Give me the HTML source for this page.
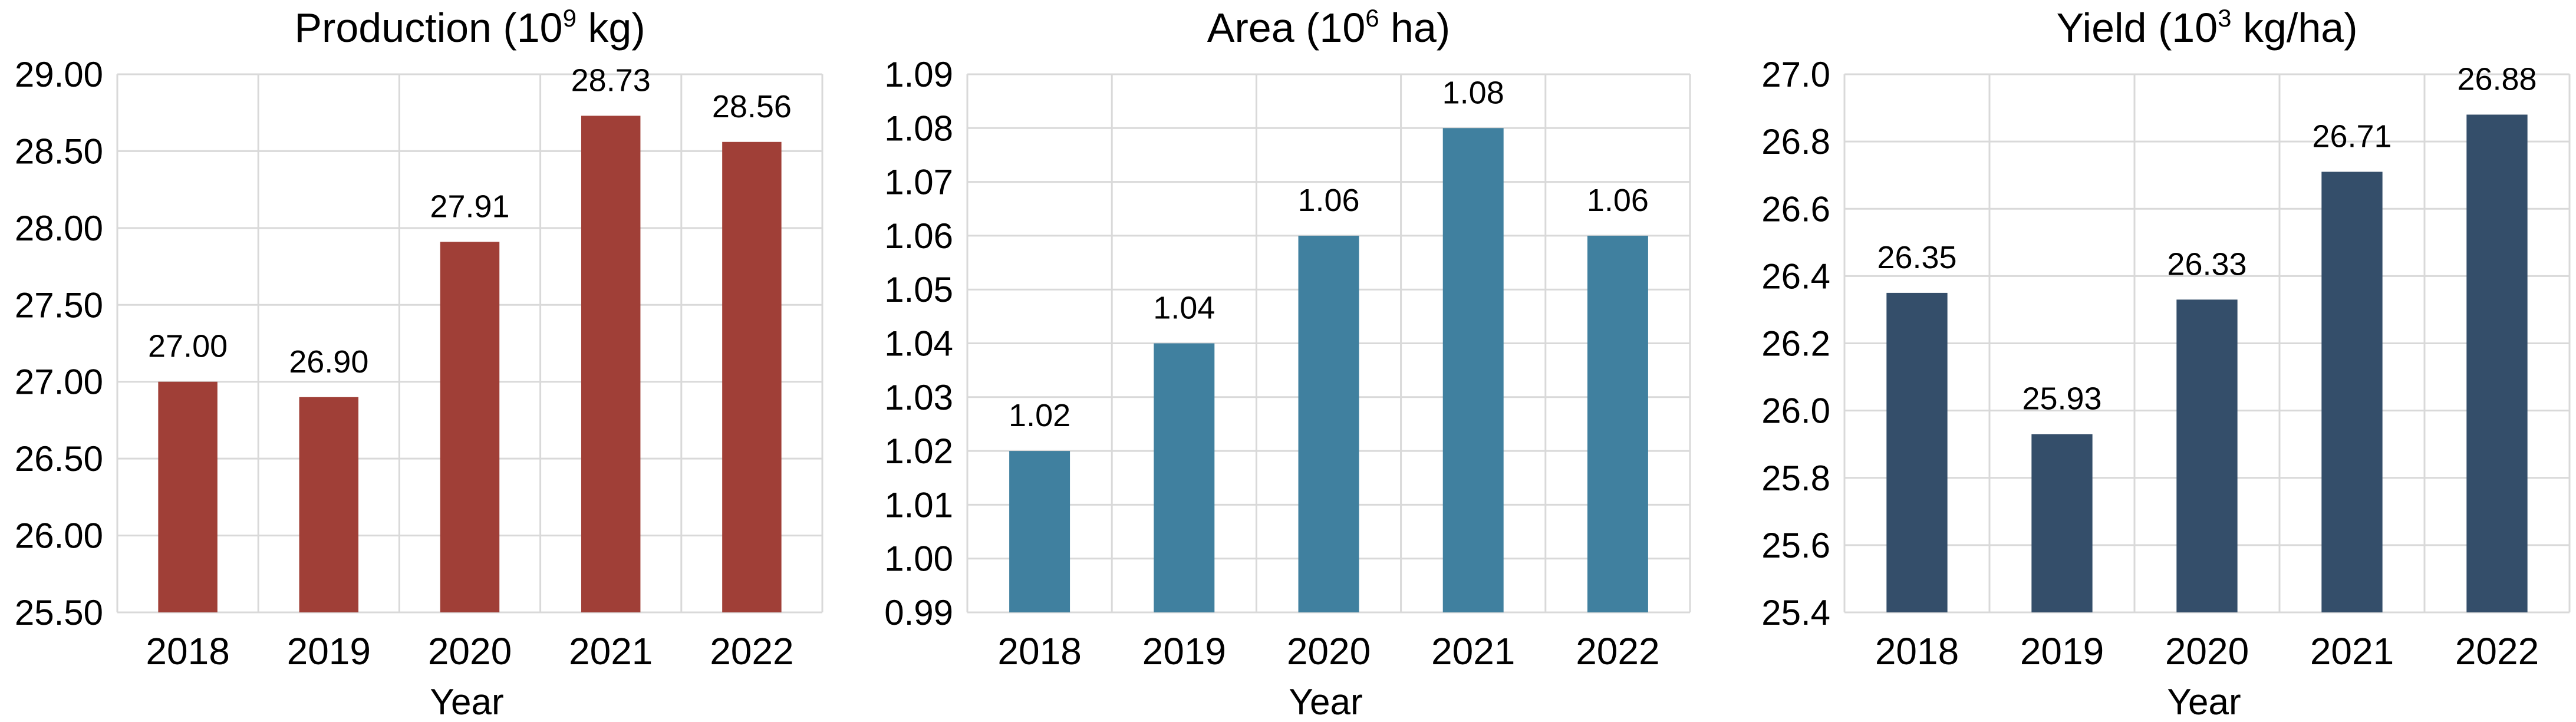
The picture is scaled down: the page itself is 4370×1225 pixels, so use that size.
<!DOCTYPE html>
<html><head><meta charset="utf-8"><style>
html,body{margin:0;padding:0;background:#fff;}
svg{display:block;font-family:"Liberation Sans",Arial,sans-serif;}
</style></head><body>
<svg id="chart" width="4370" height="1225" viewBox="0 0 4370 1225" xmlns="http://www.w3.org/2000/svg"></svg>
<script>
const years = ["2018","2019","2020","2021","2022"];
const productionValues = [27.00, 26.90, 27.91, 28.73, 28.56];
const productionLabels = ["27.00","26.90","27.91","28.73","28.56"];
const productionTicks = ["25.50","26.00","26.50","27.00","27.50","28.00","28.50","29.00"];
const areaValues = [1.02, 1.04, 1.06, 1.08, 1.06];
const areaLabels = ["1.02","1.04","1.06","1.08","1.06"];
const areaTicks = ["0.99","1.00","1.01","1.02","1.03","1.04","1.05","1.06","1.07","1.08","1.09"];
const yieldValues = [26.35, 25.93, 26.33, 26.71, 26.88];
const yieldLabels = ["26.35","25.93","26.33","26.71","26.88"];
const yieldTicks = ["25.4","25.6","25.8","26.0","26.2","26.4","26.6","26.8","27.0"];

const NS = "http://www.w3.org/2000/svg";
const svgRoot = document.getElementById("chart");
function mk(tag, attrs, parent) {
  const e = document.createElementNS(NS, tag);
  for (const k in attrs) e.setAttribute(k, attrs[k]);
  (parent || svgRoot).appendChild(e);
  return e;
}

const panels = [
  {key:"production", title:["Production (10","9"," kg)"], vals:productionValues, labels:productionLabels, ticks:productionTicks, color:"#a03f37", left:199, right:1395},
  {key:"area", title:["Area (10","6"," ha)"], vals:areaValues, labels:areaLabels, ticks:areaTicks, color:"#40809f", left:1641, right:2867},
  {key:"yield", title:["Yield (10","3"," kg/ha)"], vals:yieldValues, labels:yieldLabels, ticks:yieldTicks, color:"#344e6a", left:3129, right:4359}
];
const plotTop = 126, plotBottom = 1039;

panels.forEach(p => {
  const g = mk("g", {});
  
  
  const tmin = parseFloat(p.ticks[0]), tmax = parseFloat(p.ticks[p.ticks.length-1]);
  const y = v => plotBottom - (v - tmin) / (tmax - tmin) * (plotBottom - plotTop);
  const cw = (p.right - p.left) / years.length;
  const xc = i => p.left + cw * (i + 0.5);
  const bw = cw * 0.42;

  p.ticks.forEach(t => {
    const v = parseFloat(t);
    const gl = mk("line", {x1:p.left, x2:p.right, y1:y(v), y2:y(v), stroke:"#d9d9d9", "stroke-width":3}, g);
    
    
    const tl = mk("text", {x:p.left-24, y:y(v)+21, "text-anchor":"end", "font-size":60, fill:"#000"}, g);
    tl.textContent = t;
    
    
  });
  for (let i = 0; i <= years.length; i++) {
    const x = p.left + cw * i;
    const vl = mk("line", {x1:x, x2:x, y1:plotTop, y2:plotBottom, stroke:"#d9d9d9", "stroke-width":3}, g);
    
    
  }
  p.vals.forEach((v, i) => {
    const b = mk("rect", {x:xc(i)-bw/2, y:y(v), width:bw, height:plotBottom-y(v), fill:p.color}, g);
    
    
    const l = mk("text", {x:xc(i), y:y(v)-42, "text-anchor":"middle", "font-size":54, fill:"#000"}, g);
    l.textContent = p.labels[i];
    
    
    const xl = mk("text", {x:xc(i), y:1127, "text-anchor":"middle", "font-size":64, fill:"#000"}, g);
    xl.textContent = years[i];
    
    
  });
  const cx = (p.left + p.right) / 2;
  const tt = mk("text", {x:cx, y:71, "text-anchor":"middle", "font-size":70, fill:"#000"}, g);
  
  
  const s1 = mk("tspan", {}, tt); s1.textContent = p.title[0];
  const s2 = mk("tspan", {dy:-26, "font-size":42}, tt); s2.textContent = p.title[1];
  const s3 = mk("tspan", {dy:26}, tt); s3.textContent = p.title[2];
  const xt = mk("text", {x:cx-5, y:1212, "text-anchor":"middle", "font-size":62, fill:"#000"}, g);
  xt.textContent = "Year";
  
  
});
</script>
</body></html>
